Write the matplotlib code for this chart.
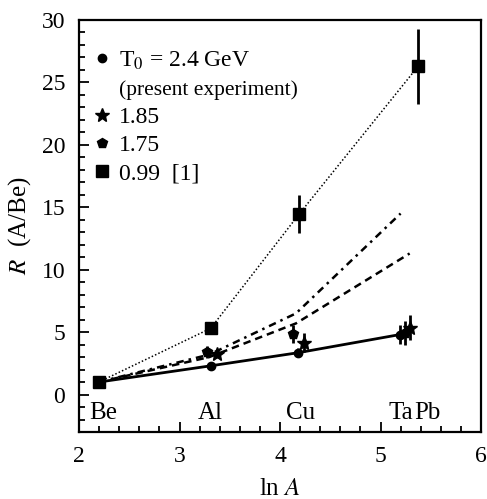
import matplotlib
matplotlib.use('Agg')
import matplotlib.pyplot as plt
from matplotlib.lines import Line2D
from matplotlib.ticker import MultipleLocator

plt.rcParams['font.family'] = ['Liberation Serif', 'DejaVu Serif']
plt.rcParams['mathtext.fontset'] = 'stix'

# ---- data ----
elements = ['Be', 'Al', 'Cu', 'Ta', 'Pb']
element_label_x = [2.24, 3.31, 4.20, 5.20, 5.47]
element_label_y = -1.5

# T0 = 2.4 GeV (present experiment)
x_24 = [2.197, 3.31, 4.18, 5.19]
y_24 = [1.0, 2.3, 3.35, 4.8]
e_24 = [0.0, 0.15, 0.35, 0.75]

# T0 = 1.85 GeV
x_185 = [3.37, 4.24, 5.29]
y_185 = [3.25, 4.15, 5.35]
e_185 = [0.3, 0.75, 1.0]

# T0 = 1.75 GeV
x_175 = [3.27, 4.13, 5.24]
y_175 = [3.4, 4.85, 4.95]
e_175 = [0.45, 0.75, 0.95]

# T0 = 0.99 GeV [1]
x_099 = [2.197, 3.31, 4.19, 5.375]
y_099 = [1.0, 5.3, 14.45, 26.3]
e_099 = [0.0, 0.0, 1.5, 3.0]

# model curves
x_m1 = [2.197, 3.296, 4.159, 5.20]
y_m1 = [1.0, 3.2, 6.5, 14.5]
x_m2 = [2.197, 3.296, 4.159, 5.29]
y_m2 = [1.0, 3.0, 5.7, 11.3]

fig = plt.figure(figsize=(4.87, 4.99), dpi=100)
ax = fig.add_axes([79/487, 1-432/499, 402/487, 412/499])

# lines
ax.plot(x_099, y_099, color='k', ls=(0, (1, 1.4)), lw=1.1)
ax.plot(x_m1, y_m1, color='k', ls=(0, (3, 2, 1, 2)), lw=1.8)
ax.plot(x_m2, y_m2, color='k', ls=(0, (3, 2)), lw=1.8)
ax.plot(x_24, y_24, color='k', ls='-', lw=2)

# error bars
for xs, ys, es in [(x_24, y_24, e_24), (x_185, y_185, e_185),
                   (x_175, y_175, e_175), (x_099, y_099, e_099)]:
    ax.errorbar(xs, ys, yerr=es, fmt='none', ecolor='k', elinewidth=2, capsize=0)

# markers
h24, = ax.plot(x_24, y_24, ls='none', marker='o', ms=6, color='k',
               label='T$_0$ = 2.4 GeV')
h185, = ax.plot(x_185, y_185, ls='none', marker='*', ms=10, color='k', label='1.85')
h175, = ax.plot(x_175, y_175, ls='none', marker='p', ms=7, color='k', label='1.75')
h099, = ax.plot(x_099, y_099, ls='none', marker='s', ms=9, color='k', label='0.99  [1]')
hdummy = Line2D([], [], ls='none', label='(present experiment)')

leg = ax.legend(handles=[h24, hdummy, h185, h175, h099], loc='upper left',
                bbox_to_anchor=(0.04, 0.928), frameon=False, borderaxespad=0,
                borderpad=0, handlelength=0.6, handletextpad=0.42,
                labelspacing=0.28, fontsize=17)
leg.get_texts()[1].set_fontsize(15.5)

# element labels
for name, xl in zip(elements, element_label_x):
    ax.text(xl, element_label_y, name, ha='center', va='center', fontsize=18)

ax.set_xlim(2, 6)
ax.set_ylim(-3, 30)
ax.set_xticks([2, 3, 4, 5, 6])
ax.set_yticks([0, 5, 10, 15, 20, 25, 30])
ax.xaxis.set_minor_locator(MultipleLocator(0.2))
ax.yaxis.set_minor_locator(MultipleLocator(1))
ax.tick_params(which='both', direction='in', top=False, right=False,
               labelsize=17, width=1.3)
ax.tick_params(which='major', length=7)
ax.tick_params(which='minor', length=4)
ax.tick_params(axis='x', which='major', pad=10)
ax.tick_params(axis='y', which='major', pad=10)
for s in ax.spines.values():
    s.set_linewidth(1.6)

ax.set_xlabel('ln $A$', fontsize=18, labelpad=8)
ax.set_ylabel('$R$  (A/Be)', fontsize=18, labelpad=6)

fig.savefig('out.png', dpi=100)
